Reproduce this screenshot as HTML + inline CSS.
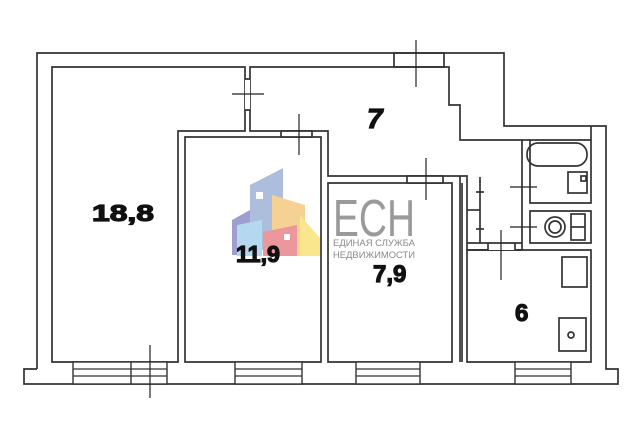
<!DOCTYPE html>
<html><head><meta charset="utf-8"><style>
html,body{margin:0;padding:0;background:#fff;width:640px;height:427px;overflow:hidden}
svg{display:block}
.w{fill:none;stroke:#333;stroke-width:1.7}
.t{font-family:"Liberation Sans",sans-serif;font-weight:bold;fill:#111;stroke:#111;stroke-width:1.2}
</style></head><body>
<svg width="640" height="427" viewBox="0 0 640 427">
<path class="w" d="M37,369 V53 H504 V126 H606 V369 H618 V384 H24 V369 H37"/>
<path class="w" d="M52,67 H245 V131 H178 V362 H52 Z"/>
<path class="w" d="M250,67 H449 V105 H460 V140 H522 V250 H467 V176 H328 V131 H250 Z"/>
<path class="w" d="M185,137 H321 V362 H185 Z"/>
<path class="w" d="M328,183 H452 V362 H328 Z"/>
<line class="w" x1="460" y1="176" x2="460" y2="362"/>
<line class="w" x1="462" y1="183" x2="462" y2="362"/>
<path class="w" d="M530,140 H591 V203 H530 Z"/>
<path class="w" d="M530,211 H591 V243 H530 Z"/>
<line class="w" x1="522" y1="140" x2="530" y2="140"/>
<path class="w" d="M467,250 H591 V362 H467 Z"/>
<line class="w" x1="591" y1="126" x2="591" y2="140"/>
<rect x="527" y="143" width="60" height="23" rx="11" class="w"/>
<rect x="568" y="172" width="19" height="21" class="w"/>
<rect x="581" y="176" width="5" height="5" class="w"/>
<circle cx="555" cy="227" r="10" class="w"/>
<circle cx="555" cy="227" r="6" class="w"/>
<rect x="571" y="214" width="14" height="26" class="w"/>
<line class="w" x1="571" y1="227" x2="585" y2="227"/>
<rect x="562" y="257" width="25" height="30" class="w"/>
<rect x="559" y="318" width="27" height="33" class="w"/>
<circle cx="571" cy="335" r="3" class="w"/>
<line class="w" x1="480" y1="177" x2="480" y2="243"/>
<g class="w"><line x1="476" y1="192" x2="484" y2="192"/><line x1="476" y1="229" x2="484" y2="229"/><line x1="467" y1="210" x2="480" y2="210"/></g>
<rect x="394" y="53" width="50" height="14" fill="#fff" class="w"/>
<g fill="#fff" stroke="#333" stroke-width="1.4">
<rect x="73" y="362" width="94" height="22"/><line x1="131" y1="362" x2="131" y2="384"/>
<rect x="235" y="362" width="67" height="22"/>
<rect x="356" y="362" width="64" height="22"/>
<rect x="515" y="362" width="56" height="22"/>
</g>
<g stroke="#333" stroke-width="1.2">
<path d="M73,369H167M73,376H167M235,369H302M235,376H302M356,369H420M356,376H420M515,369H571M515,376H571"/>
</g>
<rect x="281" y="131" width="31" height="6" fill="#fff"/>
<path class="w" d="M281,131V137M312,131V137M281,131H312M281,137H312" stroke-width="1"/>
<rect x="407" y="176" width="36" height="7" fill="#fff"/>
<path class="w" d="M407,176V183M443,176V183M407,176H443M407,183H443" stroke-width="1"/>
<rect x="488" y="243" width="27" height="7" fill="#fff"/>
<path class="w" d="M488,243V250M515,243V250M467,243H522" stroke-width="1"/>
<rect x="245" y="79" width="5" height="31" fill="#fff"/>
<path class="w" d="M245,79H250M245,110H250" stroke-width="1"/>
<g stroke="#222" stroke-width="1.2">
<path d="M232,94H264M299,114V155M416,40V87M426,158V200M510,187H537M510,227H537M501,230V280M150,345V398"/>
</g>
<g opacity="0.85">
<polygon points="250,185 283,168 283,250 250,250" fill="#9fb3d6"/>
<polygon points="232,220 250,210 250,255 232,255" fill="#8e8fc7"/>
<polygon points="237,225 262,220 262,256 237,256" fill="#a9d2ef"/>
<polygon points="272,195 305,205 305,256 272,256" fill="#f5c982"/>
<polygon points="263,232 297,225 297,256 263,256" fill="#e8858a"/>
<polygon points="300,215 320,238 320,256 300,256" fill="#f9e27a"/>
<rect x="256" y="192" width="7" height="7" fill="#fff"/>
<rect x="284" y="234" width="6" height="6" fill="#fff"/>
</g>
<text x="333" y="236" font-family="'Liberation Sans',sans-serif" font-size="52" fill="#9a9a9a" textLength="82" lengthAdjust="spacingAndGlyphs">ЕСН</text>
<text x="333" y="246" font-family="'Liberation Sans',sans-serif" font-size="9" fill="#8a8a8a" textLength="82" lengthAdjust="spacingAndGlyphs">ЕДИНАЯ СЛУЖБА</text>
<text x="333" y="258" font-family="'Liberation Sans',sans-serif" font-size="9" fill="#8a8a8a" textLength="82" lengthAdjust="spacingAndGlyphs">НЕДВИЖИМОСТИ</text>
<text class="t" x="92" y="221" font-size="23" textLength="62" lengthAdjust="spacingAndGlyphs">18,8</text>
<text class="t" x="236" y="262" font-size="23" textLength="44" lengthAdjust="spacingAndGlyphs">11,9</text>
<text class="t" x="373" y="282" font-size="24">7,9</text>
<text class="t" x="515" y="321" font-size="24">6</text>
<text class="t" x="367" y="128" font-size="28" font-style="italic">7</text>
</svg>
</body></html>
